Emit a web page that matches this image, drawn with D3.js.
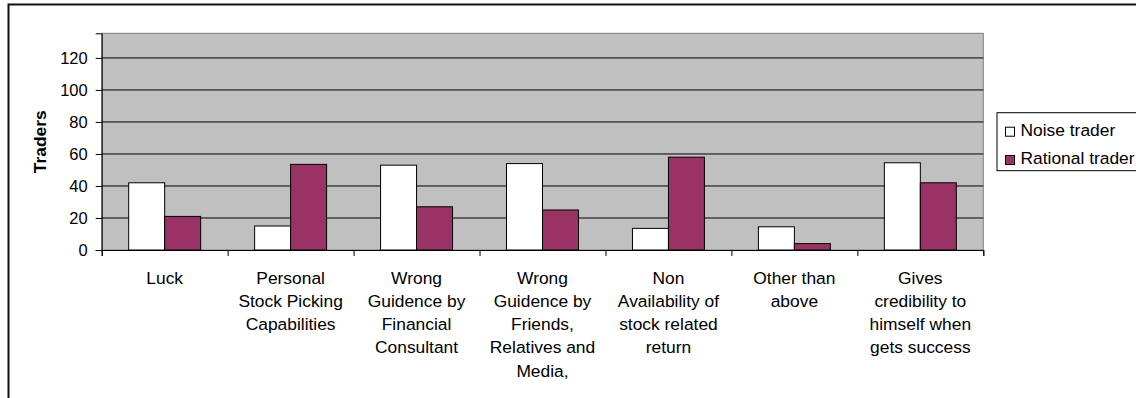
<!DOCTYPE html>
<html>
<head>
<meta charset="utf-8">
<script src="https://cdn.jsdelivr.net/npm/d3@7"></script>
<style>
  body { margin: 0; background: #fff; }
  svg { display: block; font-family: "Liberation Sans", Arial, sans-serif; }
</style>
</head>
<body>
<div id="chart"></div>
<script>
/* chart data */
var categories = [
  "Luck",
  "Personal|Stock Picking|Capabilities",
  "Wrong|Guidence by|Financial|Consultant",
  "Wrong|Guidence by|Friends,|Relatives and|Media,",
  "Non|Availability of|stock related|return",
  "Other than|above",
  "Gives|credibility to|himself when|gets success"
];
var seriesNames = ["Noise trader", "Rational trader"];
var noiseValues = [42, 15, 53, 54, 13.5, 14.5, 54.5];
var rationalValues = [21, 53.5, 27, 25, 58, 4, 42];
var yTicks = [0, 20, 40, 60, 80, 100, 120];
var colors = ["#ffffff", "#993366"];

var W = 1136, H = 398;
var margin = { top: 33.3, left: 101.7, right: W - 983.3, bottom: H - 250 };
var width = W - margin.left - margin.right;
var height = H - margin.top - margin.bottom;

var svg = d3.select("#chart").append("svg")
    .attr("width", W)
    .attr("height", H);

// outer frame (runs off the right and bottom edge)
svg.append("rect")
    .attr("x", 8.5).attr("y", 4.5)
    .attr("width", W + 20).attr("height", H + 20)
    .attr("fill", "none")
    .attr("stroke", "#111")
    .attr("stroke-width", 2);

var g = svg.append("g")
    .attr("transform", "translate(" + margin.left + "," + margin.top + ")");

var x0 = d3.scaleBand().domain(d3.range(categories.length)).range([0, width]).paddingInner(0).paddingOuter(0);
var x1 = d3.scaleBand().domain([0, 1]).range([x0.bandwidth() * 0.2143, x0.bandwidth() * 0.7857]);
var y = d3.scaleLinear().domain([0, 135.4]).range([height, 0]);

// plot area
g.append("rect")
    .attr("width", width).attr("height", height)
    .attr("fill", "#c0c0c0")
    .attr("stroke", "#808080")
    .attr("stroke-width", 1);

// gridlines
g.selectAll(".grid")
    .data(yTicks.filter(function (d) { return d > 0; }))
    .enter().append("line")
    .attr("x1", 0).attr("x2", width)
    .attr("y1", function (d) { return y(d); })
    .attr("y2", function (d) { return y(d); })
    .attr("stroke", "#000")
    .attr("stroke-width", 1);

// bars
var data = categories.map(function (c, i) { return [noiseValues[i], rationalValues[i]]; });
var groups = g.selectAll(".cat")
    .data(data)
    .enter().append("g")
    .attr("transform", function (d, i) { return "translate(" + x0(i) + ",0)"; });
groups.selectAll("rect")
    .data(function (d) { return d; })
    .enter().append("rect")
    .attr("x", function (d, j) { return x1(j); })
    .attr("width", x1.bandwidth())
    .attr("y", function (d) { return y(d); })
    .attr("height", function (d) { return height - y(d); })
    .attr("fill", function (d, j) { return colors[j]; })
    .attr("stroke", "#000")
    .attr("stroke-width", 1);

// y axis
var yAxis = d3.axisLeft(y).tickValues(yTicks).tickSize(6).tickPadding(8);
var yg = g.append("g").call(yAxis);
yg.select(".domain").attr("stroke", "#000");
yg.selectAll("text").attr("font-size", "16.5px").attr("fill", "#000")
    .attr("font-family", "'Liberation Sans', Arial, sans-serif");

// x axis with ticks at category boundaries
var xb = d3.scaleLinear().domain([0, categories.length]).range([0, width]);
var xg = g.append("g").attr("transform", "translate(0," + height + ")")
    .call(d3.axisBottom(xb).ticks(categories.length).tickSize(6).tickFormat(""));
xg.select(".domain").attr("stroke", "#000");

// category labels
var labels = g.append("g").attr("transform", "translate(0," + height + ")");
labels.selectAll("text")
    .data(categories)
    .enter().append("text")
    .attr("x", function (d, i) { return x0(i) + x0.bandwidth() / 2; })
    .attr("y", 33.5)
    .attr("text-anchor", "middle")
    .attr("font-size", "17.4px")
    .attr("fill", "#000")
    .each(function (d) {
      var t = d3.select(this);
      d.split("|").forEach(function (line, k) {
        t.append("tspan")
          .attr("x", t.attr("x"))
          .attr("dy", k === 0 ? 0 : 23.3)
          .text(line);
      });
    });

// y axis title
svg.append("text")
    .attr("transform", "translate(46," + (margin.top + 108.5) + ") rotate(-90)")
    .attr("text-anchor", "middle")
    .attr("font-size", "17.4px")
    .attr("font-weight", "bold")
    .text("Traders");

// legend
var legend = svg.append("g").attr("transform", "translate(997,112.7)");
legend.append("rect")
    .attr("width", 160).attr("height", 58)
    .attr("fill", "#fff")
    .attr("stroke", "#000")
    .attr("stroke-width", 1);
seriesNames.forEach(function (name, i) {
  var row = legend.append("g").attr("transform", "translate(0," + (i * 28.3) + ")");
  row.append("rect")
      .attr("x", 8.5).attr("y", 14.5)
      .attr("width", 9).attr("height", 9)
      .attr("fill", colors[i])
      .attr("stroke", "#000")
      .attr("stroke-width", 1);
  row.append("text")
      .attr("x", 23.5).attr("y", 23)
      .attr("font-size", "17.4px")
      .text(name);
});
</script>
</body>
</html>
